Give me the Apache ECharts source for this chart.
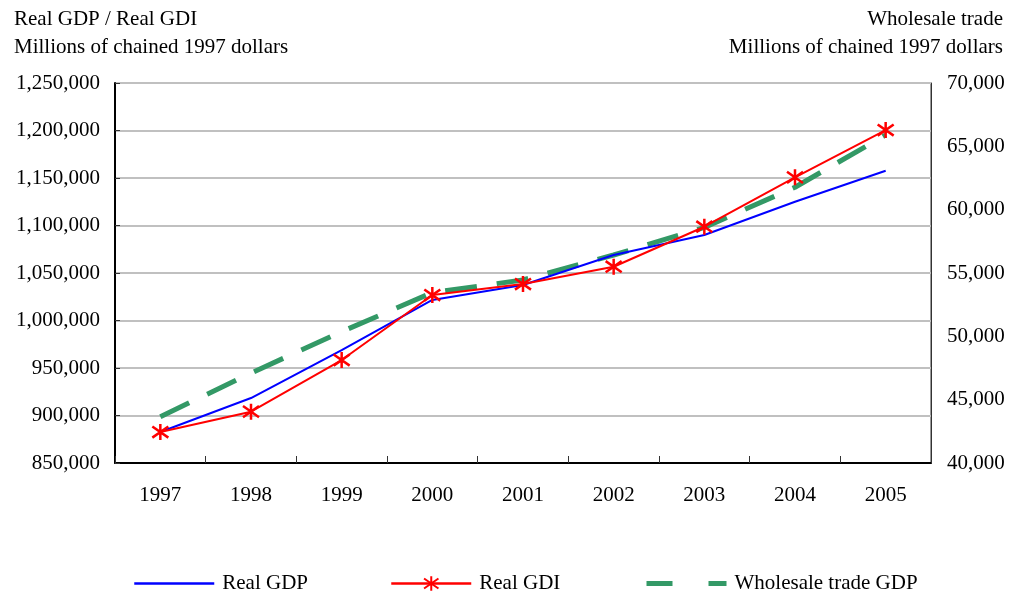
<!DOCTYPE html>
<html>
<head>
<meta charset="utf-8">
<script src="https://cdn.jsdelivr.net/npm/echarts@6/dist/echarts.min.js"></script>
<style>
  html, body { margin: 0; padding: 0; background: #fff; }
  #chart { width: 1010px; height: 594px; }
</style>
</head>
<body>
<div id="chart"></div>
<script>
var years = ["1997", "1998", "1999", "2000", "2001", "2002", "2003", "2004", "2005"];
var realGDP = [882600, 918400, 968900, 1021600, 1037400, 1068900, 1090000, 1125000, 1157700];
var realGDI = [882600, 904000, 958400, 1026800, 1038400, 1056600, 1098700, 1150700, 1200500];
var wholesaleGDP = [43650, 47100, 50370, 53450, 54450, 56420, 58600, 61770, 65900];

var FONT = "Liberation Serif";
var starPath = "path://M0,-10L0,10M-8,-7L8,7M-8,7L8,-7";

var chart = echarts.init(document.getElementById("chart"));

function fmt(v) {
  return v.toLocaleString("en-US");
}

var legendBase = {
  top: 573,
  padding: 0,
  itemWidth: 80,
  itemHeight: 18,
  itemGap: 0,
  textStyle: { fontFamily: FONT, fontSize: 21, color: "#000", padding: [0, 0, 0, 3] }
};

var titleStyle = { fontFamily: FONT, fontSize: 21, fontWeight: "normal", color: "#000" };

var option = {
  animation: false,
  backgroundColor: "#fff",
  textStyle: { fontFamily: FONT },
  title: [
    { text: "Real GDP / Real GDI", left: 9, top: 4, textStyle: titleStyle },
    { text: "Millions of chained 1997 dollars", left: 9, top: 32, textStyle: titleStyle },
    { text: "Wholesale trade", right: 2, top: 4, textStyle: titleStyle },
    { text: "Millions of chained 1997 dollars", right: 2, top: 32, textStyle: titleStyle }
  ],
  legend: [
    Object.assign({}, legendBase, { left: 133, data: [{ name: "Real GDP", itemStyle: { opacity: 0 }, lineStyle: { width: 2.5 } }] }),
    Object.assign({}, legendBase, { left: 390, data: [{ name: "Real GDI", lineStyle: { width: 2.5 } }] }),
    Object.assign({}, legendBase, { left: 644, data: [{ name: "Wholesale trade GDP", itemStyle: { opacity: 0 }, lineStyle: { width: 5, type: [26, 36] } }] })
  ],
  grid: {
    left: 115,
    right: 79,
    top: 83,
    bottom: 131,
    show: true,
    borderColor: "#333",
    borderWidth: 1
  },
  xAxis: {
    type: "category",
    data: years,
    boundaryGap: true,
    axisLine: { lineStyle: { color: "#000", width: 2 } },
    axisTick: { show: true, inside: true, length: 7, lineStyle: { color: "#333" } },
    axisLabel: { margin: 22, fontFamily: FONT, fontSize: 21, color: "#000" }
  },
  yAxis: [
    {
      type: "value",
      min: 850000,
      max: 1250000,
      interval: 50000,
      axisLine: { show: true, lineStyle: { color: "#000", width: 2 } },
      axisTick: { show: true, inside: true, length: 5, lineStyle: { color: "#333" } },
      axisLabel: { margin: 15, fontFamily: FONT, fontSize: 21, color: "#000", formatter: fmt },
      splitLine: { lineStyle: { color: "#c0c0c0", width: 2 } }
    },
    {
      type: "value",
      min: 40000,
      max: 70000,
      interval: 5000,
      position: "right",
      axisLine: { show: true, lineStyle: { color: "#333", width: 1 } },
      axisTick: { show: false },
      axisLabel: { margin: 16, fontFamily: FONT, fontSize: 21, color: "#000", formatter: fmt },
      splitLine: { show: false }
    }
  ],
  series: [
    {
      name: "Real GDP",
      type: "line",
      data: realGDP,
      symbol: "none",
      lineStyle: { color: "#0000ff", width: 2 },
      itemStyle: { color: "#0000ff" },
      z: 3
    },
    {
      name: "Real GDI",
      type: "line",
      data: realGDI,
      symbol: starPath,
      symbolSize: 16,
      showAllSymbol: true,
      lineStyle: { color: "#ff0000", width: 2 },
      itemStyle: { color: "#ff0000", borderColor: "#ff0000", borderWidth: 2.5 },
      z: 4
    },
    {
      name: "Wholesale trade GDP",
      type: "line",
      yAxisIndex: 1,
      data: wholesaleGDP,
      symbol: "none",
      lineStyle: { color: "#339966", width: 5, type: [32, 20] },
      itemStyle: { color: "#339966" },
      z: 2
    }
  ]
};

chart.setOption(option);
</script>
</body>
</html>
